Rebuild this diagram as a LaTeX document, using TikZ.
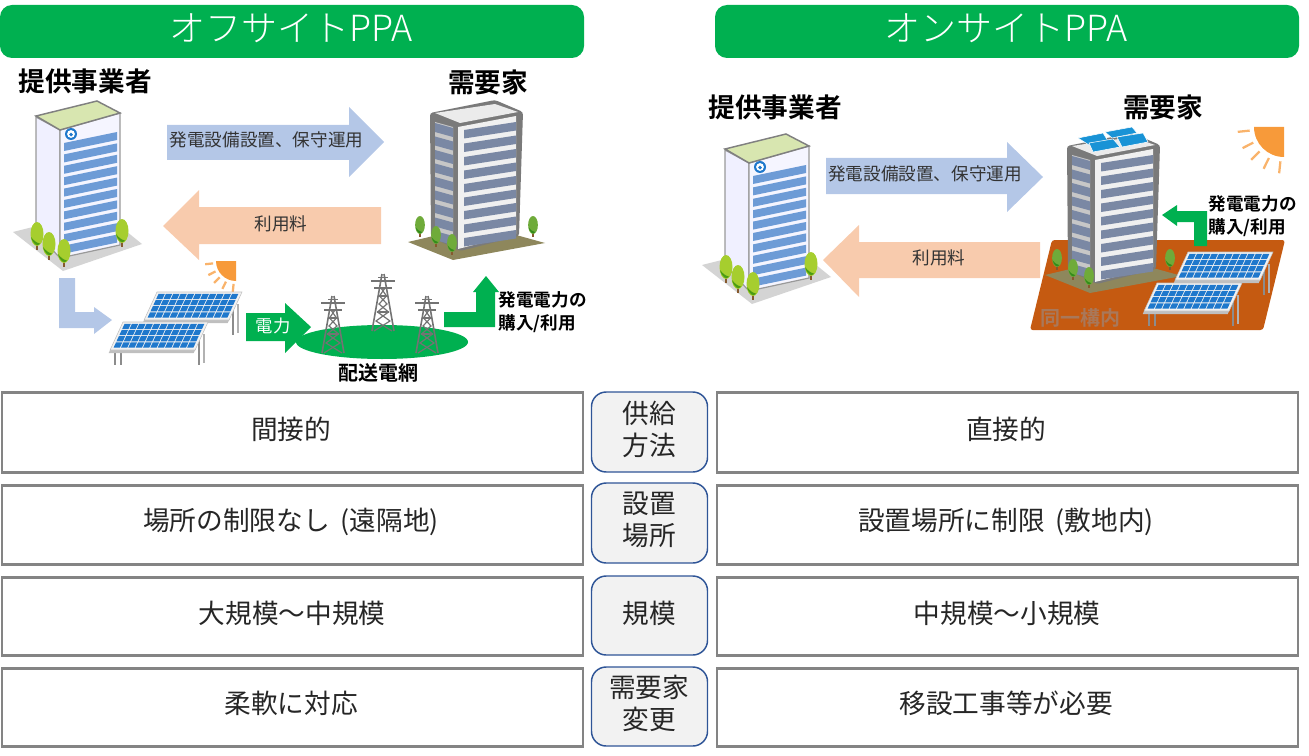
\documentclass[tikz,border=0pt]{standalone}
\usepackage{fontspec}
\usepackage{xcolor}
\setmainfont{Noto Sans CJK JP}[BoldFont={Noto Sans CJK JP Bold}]
\newfontfamily\jplight{Noto Sans CJK JP Light}
\definecolor{hdgreen}{HTML}{00B050}
\definecolor{arrblue}{HTML}{B4C7E7}
\definecolor{arrsalmon}{HTML}{F8CBAD}
\definecolor{rowgray}{HTML}{848484}
\definecolor{tagedge}{HTML}{2F5597}
\definecolor{tagfill}{HTML}{F2F2F2}
\definecolor{lotbrown}{HTML}{C55A11}
\definecolor{sunorange}{HTML}{F79A3A}
\definecolor{cellblue}{HTML}{1F78CC}
\definecolor{leafa}{HTML}{A6CE2E}
\definecolor{leafb}{HTML}{6FAB3A}
\definecolor{stripeblue}{HTML}{6D9BD6}
\definecolor{stripegray}{HTML}{7A88A4}
\definecolor{roofgreen}{HTML}{D8E6B0}
\definecolor{soil}{HTML}{8E875C}
\definecolor{lottext}{HTML}{A9785A}
\tikzset{
  header/.style={fill=hdgreen, rounded corners=9pt, minimum width=584*.75pt, minimum height=53*.75pt},
  headtext/.style={white, font=\jplight\fontsize{27}{30}\selectfont},
  rowbox/.style={draw=rowgray, line width=2pt, fill=white, minimum width=581*.75pt},
  rowtext/.style={text=black!85, font=\fontsize{20}{24}\selectfont},
  tagbox/.style={draw=tagedge, line width=1.1pt, fill=tagfill, rounded corners=11pt, minimum width=116*.75pt},
  tagtext/.style={text=black!85, align=center, font=\fontsize{20}{24}\selectfont},
  who/.style={font=\bfseries\fontsize{20}{24}\selectfont},
  small/.style={text=black!80, font=\fontsize{13.2}{16}\selectfont},
  smallbold/.style={align=left, font=\bfseries\fontsize{13.2}{17}\selectfont},
  pics/tree/.style={code={
    \fill[brown!70!black] (-.9,6) rectangle (.9,16);
    \fill[#1] (0,0) ellipse (6.5 and 12);
    \fill[green!45!black, opacity=.55] (-6,3) .. controls (-4,11) and (1,13) .. (3,9.5) .. controls (0,9) and (-3,7) .. (-6,3) -- cycle;
  }},
  pics/provider/.style={code={
    \fill[black!17] (13,232) -- (63,271) -- (142,244) -- (100,210) -- cycle;
    \filldraw[draw=black!40, fill=blue!6!white, line width=.9pt] (36,117) -- (60,130) -- (60,258) -- (36,232) -- cycle;
    \filldraw[draw=black!40, fill=blue!4!white, line width=.9pt] (60,130) -- (120,113) -- (120,245) -- (60,258) -- cycle;
    \filldraw[draw=black!50, fill=roofgreen, line width=1.1pt] (36,116) -- (97,101) -- (120,113) -- (60,130) -- cycle;
    \foreach \i in {0,...,9}
      \fill[stripeblue] (64,143+11.4*\i) -- (117,132+11.4*\i) -- (117,140+11.4*\i) -- (64,151+11.4*\i) -- cycle;
    \fill[cellblue] (71,134) circle (6);
    \fill[white] (71,134) circle (3.9);
    \fill[cellblue] (71,134.6) circle (1.9);
    \pic at (37,234) {tree=leafa};
    \pic at (49,244) {tree=leafa};
    \pic at (64,251) {tree=leafa};
    \pic at (122,231) {tree=leafa};
  }},
  pics/demand/.style={code={
    \fill[soil] (408,242) -- (453,260) -- (545,243) -- (480,225) -- cycle;
    \fill[black!52, rounded corners=2pt] (430,113) -- (495,100) -- (523,112) -- (519,236) -- (460,251) -- (431,237) -- cycle;
    \fill[black!8] (435,113) -- (495,104) -- (518,112) -- (460,123) -- cycle;
    \fill[black!22] (435,122) -- (453,127) -- (453,240) -- (435,233) -- cycle;
    \fill[black!6] (458,127) -- (516,116) -- (516,234) -- (458,249) -- cycle;
    \foreach \i in {0,...,8}
      \fill[stripegray] (464,130+13.5*\i) -- (516,122+13.5*\i) -- (516,130.5+13.5*\i) -- (464,138.5+13.5*\i) -- cycle;
    \foreach \i in {0,...,8}
      \fill[stripegray] (435,123+13.5*\i) -- (453,128+13.5*\i) -- (453,137+13.5*\i) -- (435,132+13.5*\i) -- cycle;
    \pic[scale=.75] at (420,225) {tree=leafb};
    \pic[scale=.75] at (436,235) {tree=leafb};
    \pic[scale=.75] at (452,243) {tree=leafb};
    \pic[scale=.75] at (533,225) {tree=leafb};
  }},
  pics/panel/.style={code={
    \draw[black!45, line width=1.8pt] (-8,31) -- (-8,43);
    \draw[black!45, line width=1.8pt] (-2,31) -- (-2,43);
    \draw[black!45, line width=1.8pt] (76,18) -- (76,43);
    \draw[black!30, line width=1.8pt] (81,12) -- (81,41);
    \begin{scope}[xslant=.46]
      \fill[black!25] (0,26) rectangle (85,31);
      \filldraw[draw=black!25, fill=black!5] (0,0) rectangle (85,28);
      \foreach \i in {0,...,10}
        \foreach \j in {0,...,3}
          \fill[cellblue] (2.4+7.35*\i,1.8+6.2*\j) rectangle ++(6.3,5.2);
    \end{scope}
  }},
  pics/pylon/.style={code={
    \draw[black!55, line width=1.2pt] (-1,0) -- (-11,57) (1,0) -- (11,57);
    \draw[black!55, line width=1.2pt] (-12,7) -- (12,7) (-9,14) -- (9,14) (-5,3.5) -- (5,3.5);
    \draw[black!55, line width=.9pt] (-2,14) -- (3.5,22) -- (-4,30) -- (5.5,38) -- (-7,47) -- (9,57);
    \draw[black!55, line width=.9pt] (2,14) -- (-3.5,22) -- (4,30) -- (-5.5,38) -- (7,47) -- (-9,57);
    \draw[black!55, line width=.9pt] (-4,22) -- (4,22) (-6,38) -- (6,38);
  }},
  pics/sun/.style={code={
    \fill[sunorange] (0,0) -- (-20,0) arc[start angle=180, end angle=90, radius=20] -- cycle;
    \foreach \a in {174,153,135,116,96}
      \draw[sunorange!75!white, line width=1.7pt] (\a:23) -- (\a:31);
  }}
}
\begin{document}
\begin{tikzpicture}[x=.75pt, y=-.75pt]
\useasboundingbox (0,0) rectangle (1309,756);

% title bars
\node[header] (offbar) at (292,31.5) {};
\node[header] (onbar) at (1007,31.5) {};
\node[headtext] (offtitle) at (291,28) {オフサイトPPA};
\node[headtext] (ontitle) at (1006,28) {オンサイトPPA};

% off-site scene
\node[who] (offsupplier) at (85,81) {提供事業者};
\node[who] (offbuyer) at (488,82) {需要家};
\pic (offprovider) at (0,0) {provider};
\pic (offdemand) at (0,0) {demand};
\fill[arrblue] (167,125) -- (349,125) -- (349,107) -- (384,142) -- (349,177) -- (349,160) -- (167,160) -- cycle;
\fill[arrsalmon] (381,207) -- (199,207) -- (199,190) -- (163,226) -- (199,260) -- (199,244) -- (381,244) -- cycle;
\node[small] (offinstall) at (266.5,140) {発電設備設置、保守運用};
\node[small] (offfee) at (281,224) {利用料};
\fill[arrblue] (59,278) -- (75,278) -- (75,312) -- (94,312) -- (94,307) -- (112,320) -- (94,334) -- (94,328) -- (59,328) -- cycle;
\pic[scale=1] (offsun) at (236,261) {sun};
\pic (offpanela) at (157,292) {panel};
\pic (offpanelb) at (123,322) {panel};
\fill[hdgreen] (382,342) ellipse (86 and 17);
\fill[hdgreen] (246,313) -- (285,313) -- (285,303) -- (311,327) -- (285,353) -- (285,341) -- (246,341) -- cycle;
\node[white, font=\fontsize{13}{16}\selectfont] (offpower) at (273,326) {電力};
\pic (offpylona) at (333,296) {pylon};
\pic (offpylonb) at (383,274) {pylon};
\pic (offpylonc) at (427,296) {pylon};
\fill[hdgreen] (444,312) -- (476,312) -- (476,292) -- (473,292) -- (486,276) -- (499,292) -- (495,292) -- (495,327) -- (444,327) -- cycle;
\node[smallbold, anchor=west] (offuse) at (494,312) {発電電力の\\購入/利用};
\node[font=\bfseries\fontsize{15}{18}\selectfont] (offgrid) at (378,373) {配送電網};

% on-site scene
\node[who] (onsupplier) at (775,107) {提供事業者};
\node[who] (onbuyer) at (1163,107) {需要家};
\pic (onprovider) at (689,33) {provider};
\fill[arrblue] (826,158) -- (1007,158) -- (1007,142) -- (1043,177) -- (1007,212) -- (1007,194) -- (826,194) -- cycle;
\fill[arrsalmon] (1040,242) -- (859,242) -- (859,225) -- (823,260) -- (859,297) -- (859,278) -- (1040,278) -- cycle;
\node[small] (oninstall) at (925,174) {発電設備設置、保守運用};
\node[small] (onfee) at (939,258) {利用料};
\fill[lotbrown, rounded corners=2pt] (1052,240) -- (1285,240) -- (1263,330) -- (1030,330) -- cycle;
\node[text=lottext, font=\bfseries\fontsize{15}{18}\selectfont] (onlot) at (1080,318) {同一構内};
\pic (ondemand) at (637,33) {demand};
\filldraw[draw=white, fill=cellblue!80!cyan, line width=.4pt] (1078,138) -- (1103,133) -- (1108,141) -- (1089,145) -- cycle;
\filldraw[draw=white, fill=cellblue!80!cyan, line width=.4pt] (1105,132) -- (1132,127) -- (1137,133) -- (1112,138) -- cycle;
\filldraw[draw=white, fill=cellblue!80!cyan, line width=.4pt] (1089,143) -- (1113,139) -- (1120,147) -- (1093,152) -- cycle;
\filldraw[draw=white, fill=cellblue!80!cyan, line width=.4pt] (1117,137) -- (1143,133) -- (1148,142) -- (1122,147) -- cycle;
\pic[scale=1.5] (onsun) at (1284,127) {sun};
\pic (onpanela) at (1188,252) {panel};
\pic (onpanelb) at (1157,283) {panel};
\fill[hdgreen] (1194,246) -- (1207,246) -- (1207,211) -- (1177,211) -- (1177,205) -- (1162,215) -- (1177,226) -- (1177,222) -- (1194,222) -- cycle;
\node[smallbold, anchor=west] (onuse) at (1204,216) {発電電力の\\購入/利用};

% left column
\node[rowbox, minimum height=80*.75pt] (offrowa) at (292.5,432.5) {};
\node[rowbox, minimum height=79*.75pt] (offrowb) at (292.5,525) {};
\node[rowbox, minimum height=78*.75pt] (offrowc) at (292.5,616.5) {};
\node[rowbox, minimum height=78*.75pt] (offrowd) at (292.5,707.5) {};
\node[rowtext] (offtexta) at (291,429) {間接的};
\node[rowtext] (offtextb) at (291,522) {場所の制限なし\hspace{.42em}(遠隔地)};
\node[rowtext] (offtextc) at (292,613) {大規模～中規模};
\node[rowtext] (offtextd) at (291,703) {柔軟に対応};

% right column
\node[rowbox, minimum height=80*.75pt] (onrowa) at (1007.5,432.5) {};
\node[rowbox, minimum height=79*.75pt] (onrowb) at (1007.5,525) {};
\node[rowbox, minimum height=78*.75pt] (onrowc) at (1007.5,616.5) {};
\node[rowbox, minimum height=78*.75pt] (onrowd) at (1007.5,707.5) {};
\node[rowtext] (ontexta) at (1006,429) {直接的};
\node[rowtext] (ontextb) at (1006,522) {設置場所に制限\hspace{.42em}(敷地内)};
\node[rowtext] (ontextc) at (1007,613) {中規模～小規模};
\node[rowtext] (ontextd) at (1006,703) {移設工事等が必要};

% middle tags
\node[tagbox, minimum height=80*.75pt] (tagsupply) at (649.5,432) {};
\node[tagbox, minimum height=80*.75pt] (tagplace) at (649.5,523) {};
\node[tagbox, minimum height=79*.75pt] (tagscale) at (649.5,615.5) {};
\node[tagbox, minimum height=79*.75pt] (tagchange) at (649.5,706.5) {};
\node[tagtext] (tagsupplyt) at (649,429) {供給\\方法};
\node[tagtext] (tagplacet) at (649,520) {設置\\場所};
\node[tagtext] (tagscalet) at (649,613) {規模};
\node[tagtext] (tagchanget) at (649,703) {需要家\\変更};
\end{tikzpicture}
\end{document}
